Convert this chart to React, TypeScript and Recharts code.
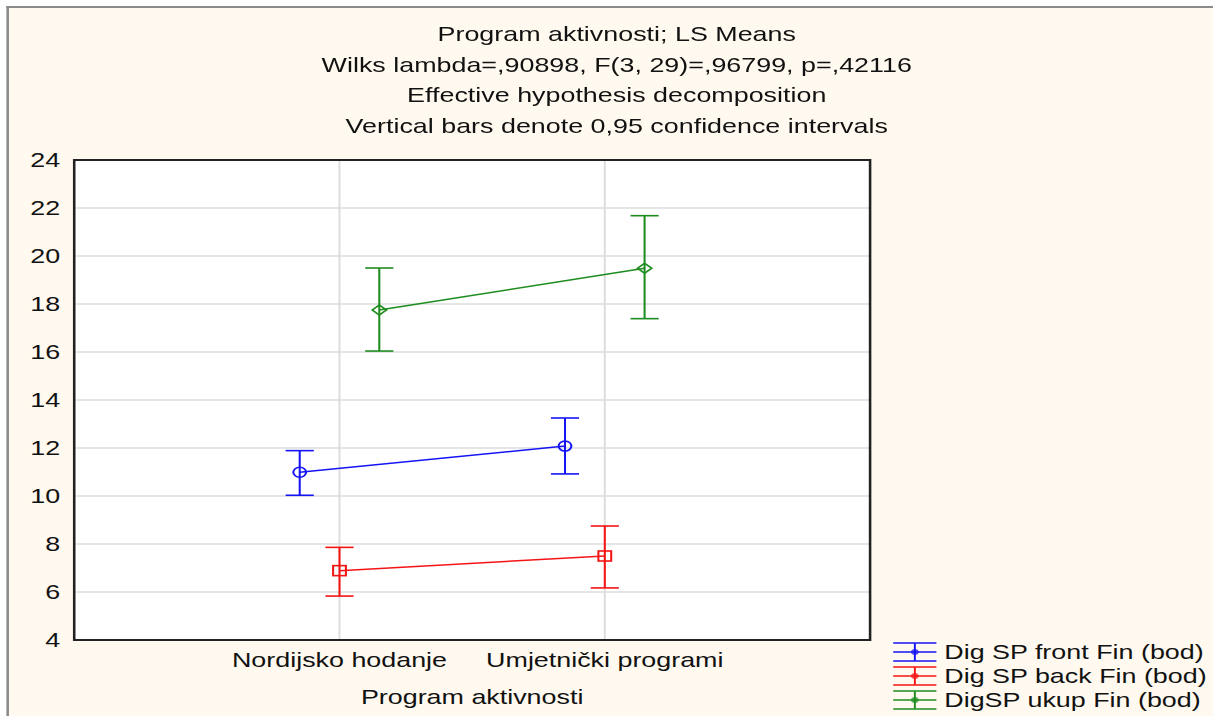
import {
  ScatterChart,
  Scatter,
  XAxis,
  YAxis,
  CartesianGrid,
  ErrorBar,
  ReferenceArea,
} from "recharts";

const categories = ["Nordijsko hodanje", "Umjetnički programi"];
const seriesNames = ["Dig SP front Fin (bod)", "Dig SP back Fin (bod)", "DigSP ukup Fin (bod)"];
const seriesColors = ["#1414f5", "#f51414", "#1e8c1e"];

// LS means and 0,95 confidence limits per category
const frontMean = [10.99, 12.08];
const frontLow = [10.03, 10.92];
const frontHigh = [11.89, 13.25];
const backMean = [6.89, 7.5];
const backLow = [5.83, 6.17];
const backHigh = [7.86, 8.75];
const totalMean = [17.75, 19.49];
const totalLow = [16.04, 17.39];
const totalHigh = [19.5, 21.68];

const yTicks = [4, 6, 8, 10, 12, 14, 16, 18, 20, 22, 24];
const titleLines = [
  "Program aktivnosti; LS Means",
  "Wilks lambda=,90898, F(3, 29)=,96799, p=,42116",
  "Effective hypothesis decomposition",
  "Vertical bars denote 0,95 confidence intervals",
];

const FONT = '"Liberation Sans", Arial, sans-serif';
const STRETCH = 1213 / 948;

function buildSeries(mean: number[], low: number[], high: number[], shift: number) {
  return mean.map((m, i) => ({
    x: i + 1 + shift,
    y: m,
    err: [m - low[i], high[i] - m],
  }));
}

const frontData = buildSeries(frontMean, frontLow, frontHigh, -0.15);
const backData = buildSeries(backMean, backLow, backHigh, 0);
const totalData = buildSeries(totalMean, totalLow, totalHigh, 0.15);

const circleShape = (color: string) => (p: any) => (
  <circle cx={p.cx} cy={p.cy} r={5} fill="none" stroke={color} strokeWidth={1.6} />
);
const squareShape = (color: string) => (p: any) => (
  <rect x={p.cx - 5} y={p.cy - 5} width={10} height={10} fill="none" stroke={color} strokeWidth={1.6} />
);
const diamondShape = (color: string) => (p: any) => (
  <polygon
    points={`${p.cx - 5.5},${p.cy} ${p.cx},${p.cy - 5} ${p.cx + 5.5},${p.cy} ${p.cx},${p.cy + 5}`}
    fill="none"
    stroke={color}
    strokeWidth={1.6}
  />
);

function LegendIcon({ color }: { color: string }) {
  return (
    <svg width={34} height={22} style={{ display: "block" }}>
      <line x1={0} y1={2} x2={34} y2={2} stroke={color} strokeWidth={1.5} />
      <line x1={0} y1={11} x2={34} y2={11} stroke={color} strokeWidth={1.5} />
      <line x1={0} y1={20} x2={34} y2={20} stroke={color} strokeWidth={1.5} />
      <line x1={17} y1={2} x2={17} y2={20} stroke={color} strokeWidth={1.5} />
      <circle cx={17} cy={11} r={3} fill={color} fillOpacity={0.7} />
    </svg>
  );
}

export default function App() {
  const tickStyle = { fontSize: 21, fill: "#111", fontFamily: FONT };
  return (
    <div style={{ width: 1213, height: 716, position: "relative", overflow: "hidden", background: "#fff" }}>
      <style>{`body{margin:0}`}</style>
      <div
        style={{
          position: "absolute",
          left: 0,
          top: 0,
          width: 948,
          height: 716,
          transform: `scaleX(${STRETCH})`,
          transformOrigin: "0 0",
          fontFamily: FONT,
          color: "#111",
        }}
      >
        <div
          style={{
            position: "absolute",
            left: 5,
            top: 6,
            width: 960,
            height: 730,
            background: "#fff9ef",
            borderLeft: "2.5px solid #8a8a8a",
            borderTop: "2.5px solid #8a8a8a",
          }}
        />
        <div style={{ position: "absolute", left: 0, top: 0 }}>
          <ScatterChart width={948} height={716} margin={{ top: 160, right: 268, bottom: 0, left: 0 }}>
            <CartesianGrid fill="#fff" stroke="#dcdcdc" strokeWidth={1.5} />
            <XAxis
              type="number"
              dataKey="x"
              domain={[0, 3]}
              ticks={[1, 2]}
              tickFormatter={(v: number) => categories[v - 1]}
              height={76}
              tickSize={0}
              tickMargin={12}
              axisLine={false}
              tick={tickStyle}
              label={{ value: "Program aktivnosti", position: "insideBottom", offset: 12, style: tickStyle }}
            />
            <YAxis
              type="number"
              dataKey="y"
              domain={[4, 24]}
              ticks={yTicks}
              width={58}
              tickSize={0}
              tickMargin={11}
              axisLine={false}
              tick={tickStyle}
            />
            <Scatter
              name={seriesNames[0]}
              data={frontData}
              line={{ stroke: seriesColors[0], strokeWidth: 1.5 }}
              shape={circleShape(seriesColors[0])}
              isAnimationActive={false}
            >
              <ErrorBar dataKey="err" direction="y" width={11} stroke={seriesColors[0]} strokeWidth={1.6} />
            </Scatter>
            <Scatter
              name={seriesNames[1]}
              data={backData}
              line={{ stroke: seriesColors[1], strokeWidth: 1.5 }}
              shape={squareShape(seriesColors[1])}
              isAnimationActive={false}
            >
              <ErrorBar dataKey="err" direction="y" width={11} stroke={seriesColors[1]} strokeWidth={1.6} />
            </Scatter>
            <Scatter
              name={seriesNames[2]}
              data={totalData}
              line={{ stroke: seriesColors[2], strokeWidth: 1.5 }}
              shape={diamondShape(seriesColors[2])}
              isAnimationActive={false}
            >
              <ErrorBar dataKey="err" direction="y" width={11} stroke={seriesColors[2]} strokeWidth={1.6} />
            </Scatter>
            <ReferenceArea x1={0} x2={3} y1={4} y2={24} fill="none" stroke="#222" strokeWidth={2} ifOverflow="visible" />
          </ScatterChart>
        </div>
        <div
          style={{
            position: "absolute",
            left: 0,
            top: 19,
            width: 964,
            textAlign: "center",
            fontSize: 21,
            lineHeight: "30.5px",
          }}
        >
          {titleLines.map((t) => (
            <div key={t}>{t}</div>
          ))}
        </div>
        <div style={{ position: "absolute", left: 698, top: 640, fontSize: 21, lineHeight: "24px" }}>
          {seriesNames.map((n, i) => (
            <div key={n} style={{ display: "flex", alignItems: "center", height: 24 }}>
              <LegendIcon color={seriesColors[i]} />
              <span style={{ marginLeft: 6, whiteSpace: "nowrap" }}>{n}</span>
            </div>
          ))}
        </div>
      </div>
    </div>
  );
}
